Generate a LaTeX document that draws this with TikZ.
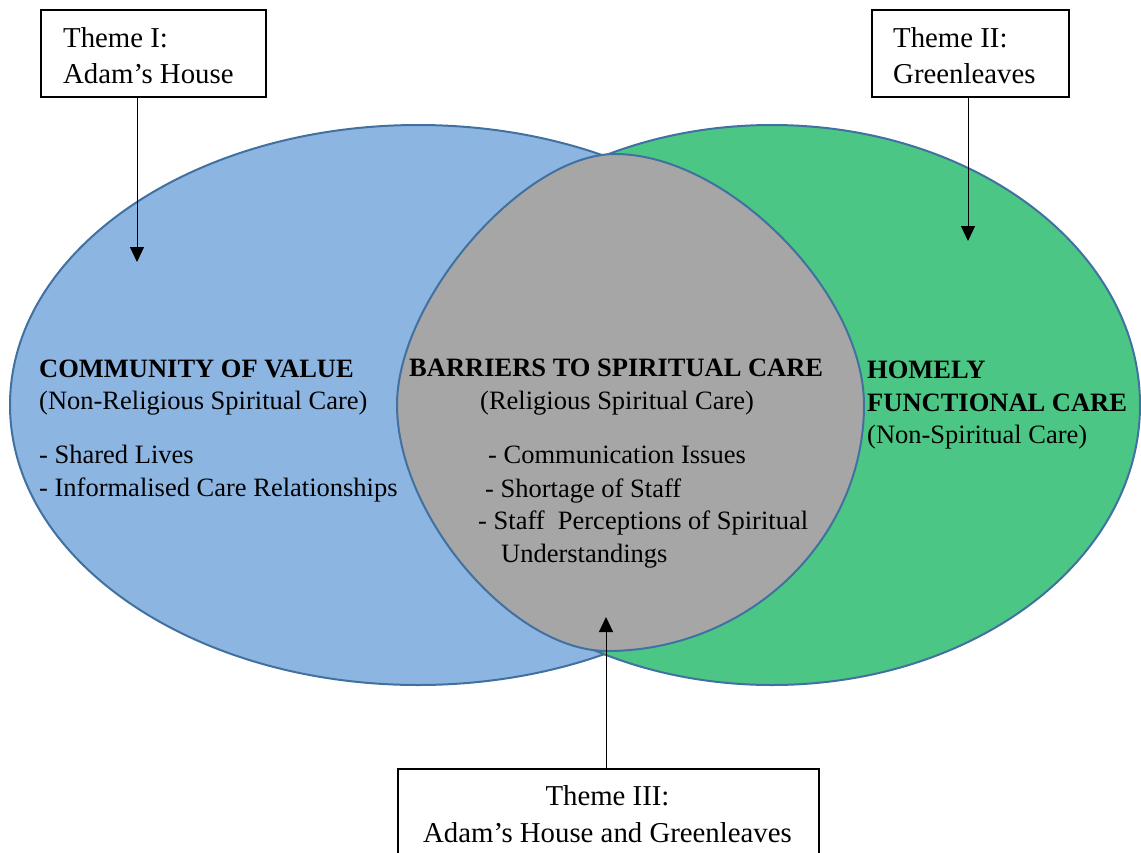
\documentclass[tikz,border=0pt]{standalone}
\usepackage{fontspec}
\setmainfont{Liberation Serif}
\usetikzlibrary{arrows.meta}
\definecolor{bluefill}{RGB}{141,181,225}
\definecolor{greenfill}{RGB}{76,198,132}
\definecolor{grayfill}{RGB}{166,166,166}
\definecolor{vennline}{RGB}{65,113,160}
\begin{document}
\begin{tikzpicture}[x=1pt,y=-1pt,
  venn/.style={draw=vennline, line width=2pt},
  themebox/.style={draw=black, line width=2.2pt, fill=white, inner sep=0pt, anchor=north west},
  boxtext/.style={font=\fontsize{28.8}{36}\selectfont, anchor=base west, inner sep=0pt},
  body/.style={font=\fontsize{26.5}{32}\selectfont, anchor=base west, inner sep=0pt},
  bodyb/.style={font=\fontsize{26.5}{32}\selectfont\bfseries, anchor=base west, inner sep=0pt},
  arr/.style={-{Triangle[width=14pt,length=15pt]}, line width=1pt, draw=black}]
\useasboundingbox (0,0) rectangle (1141,852);
\clip (0,0) rectangle (1141,852);
\fill[white] (0,0) rectangle (1141,852);

% circles
\path[venn, fill=bluefill] (418,405) ellipse [x radius=408pt, y radius=280pt];
\path[venn, fill=greenfill] (772,405) ellipse [x radius=368pt, y radius=280pt];
\path[venn, fill=grayfill] (615,154)
  .. controls (727,154) and (864,292) .. (864,405)
  .. controls (864,540) and (748,651) .. (607,651)
  .. controls (512.5,651) and (397,515.7) .. (397,405)
  .. controls (397,300) and (523.4,154) .. (615,154) -- cycle;

% theme boxes
\node[themebox, minimum width=225pt, minimum height=87pt] (b1) at (40,9) {};
\node[boxtext] (b1a) at (63,47) {Theme I:};
\node[boxtext] (b1b) at (63,83) {Adam’s House};

\node[themebox, minimum width=197pt, minimum height=87pt] (b2) at (871,9) {};
\node[boxtext] (b2a) at (893,47) {Theme II:};
\node[boxtext] (b2b) at (893,83) {Greenleaves};

\node[themebox, minimum width=421pt, minimum height=120pt] (b3) at (397,768) {};
\node[boxtext, anchor=base] (b3a) at (607.5,805) {Theme III:};
\node[boxtext, anchor=base] (b3b) at (607.5,842) {Adam’s House and Greenleaves};

% arrows
\coordinate (tip1) at (137,262);
\coordinate (tip2) at (968,241);
\coordinate (tip3) at (606,617);
\draw[arr] (b1.south -| tip1) -- (tip1);
\draw[arr] (b2.south -| tip2) -- (tip2);
\draw[arr] (b3.north -| tip3) -- (tip3);

% left text
\node[bodyb] (cv1) at (39,377) {COMMUNITY OF VALUE};
\node[body] (cv2) at (39,409) {(Non-Religious Spiritual Care)};
\node[body] (cv3) at (39,463) {- Shared Lives};
\node[body] (cv4) at (39,496) {- Informalised Care Relationships};

% centre text
\node[bodyb] (bs1) at (409,376) {BARRIERS TO SPIRITUAL CARE};
\node[body] (bs2) at (480,409) {(Religious Spiritual Care)};
\node[body] (bs3) at (488,463) {- Communication Issues};
\node[body] (bs4) at (485,497) {- Shortage of Staff};
\node[body] (bs5) at (478,529) {- Staff~ Perceptions of Spiritual};
\node[body] (bs6) at (501,562) {Understandings};

% right text
\node[bodyb] (hf1) at (867,378) {HOMELY};
\node[bodyb] (hf2) at (867,411) {FUNCTIONAL CARE};
\node[body] (hf3) at (867,443) {(Non-Spiritual Care)};
\end{tikzpicture}
\end{document}
